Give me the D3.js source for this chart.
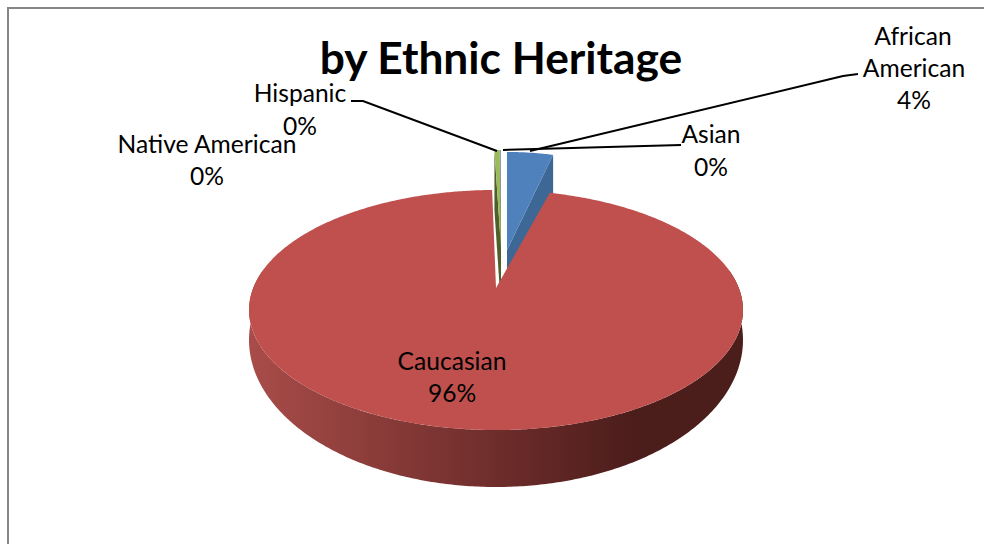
<!DOCTYPE html>
<html>
<head>
<meta charset="utf-8">
<script src="https://cdn.jsdelivr.net/npm/d3@7"></script>
<style>
  html, body { margin: 0; padding: 0; background: #fff; }
  text { font-family: Lato, "Open Sans", sans-serif; fill: #000; }
</style>
</head>
<body>
<div id="chart"></div>
<script>
const categories = ['African American', 'Caucasian', 'Hispanic', 'Native American', 'Asian']
const values = [4.2, 95.5, 0.24, 0.03, 0.03]
const colors = ['#4f81bd', '#c0504d', '#9bbb59', '#8064a2', '#4bacc6']
const wallColors = ['#3d6794', '#000', '#4f5f2c', '#4f5f2c', '#4f5f2c']

const width = 984
const height = 544

// pie is drawn as a tilted disc with some perspective
const center = { x: 496, y: 288 }
const persp = 0.1833
const radiusX = 242.8
const radiusY = 116
const depth = 60
// lower rim sits closer at the sides than at the front
const lowerOffset = 25
const lowerStretch = 1.225

// how far the small slices are pulled out, in screen px
const pulled = {
  'African American': { dx: 11, dy: -38, sx: 0.857 },
  Hispanic: { dx: 5, dy: -40, sx: 1.7 },
  'Native American': { dx: 5, dy: -40, sx: 1.7 },
  Asian: { dx: 5, dy: -40, sx: 1.7 }
}

// label lines: text, x, baseline y
const labels = [
  { name: 'African American', lines: [['African', 913, 45], ['American', 914, 77], ['%', 914, 109]] },
  { name: 'Asian', lines: [['Asian', 711, 143], ['%', 711, 176]] },
  { name: 'Hispanic', lines: [['Hispanic', 300, 102], ['%', 300, 135]] },
  { name: 'Native American', lines: [['Native American', 207, 153], ['%', 207, 185]] },
  { name: 'Caucasian', lines: [['Caucasian', 452, 370], ['%', 452, 402]] }
]

const leaders = [
  [[351, 101], [363, 101], [497, 151]],
  [[681, 145], [503, 150]],
  [[858, 74], [843, 76], [530, 151]]
]

const svg = d3
  .select('#chart')
  .append('svg')
  .attr('width', width)
  .attr('height', height)
  .style('display', 'block')

const defs = svg.append('defs')
const wallGrad = defs
  .append('linearGradient')
  .attr('id', 'wall')
  .attr('gradientUnits', 'userSpaceOnUse')
  .attr('x1', 250)
  .attr('x2', 742)
  .attr('y1', 0)
  .attr('y2', 0)
wallGrad.append('stop').attr('offset', '0%').attr('stop-color', '#a84c49')
wallGrad.append('stop').attr('offset', '50%').attr('stop-color', '#6e2d2b')
wallGrad.append('stop').attr('offset', '78%').attr('stop-color', '#4b1d1b')
wallGrad.append('stop').attr('offset', '100%').attr('stop-color', '#4b1d1b')

// frame, only top and left show in the window
svg
  .append('path')
  .attr('d', `M8,${height} V8 H${width}`)
  .attr('fill', 'none')
  .attr('stroke', '#868686')
  .attr('stroke-width', 2)

const pie = d3.pie().sort(null).startAngle(0).endAngle(2 * Math.PI)
const arcs = pie(values)
const total = d3.sum(values)

function project(angle, r, off) {
  const u = r * Math.sin(angle)
  const v = -r * Math.cos(angle)
  const w = 1 - persp * v
  const o = off || { dx: 0, dy: 0, sx: 1 }
  return [
    center.x + o.dx + (o.sx * radiusX * u) / w,
    center.y + o.dy + (radiusY * v) / w
  ]
}

function lower(p) {
  return [p[0], center.y + lowerOffset + (p[1] - center.y) * lowerStretch]
}

function rim(a0, a1) {
  const n = Math.max(2, Math.ceil(Math.abs(a1 - a0) / 0.01))
  return d3.range(n + 1).map(i => a0 + ((a1 - a0) * i) / n)
}

const line = d3.line()
const closed = pts => line(pts) + 'Z'

// pulled slices first, red covers them
const order = [4, 3, 2, 0]
order.forEach(i => {
  const a = arcs[i]
  const off = pulled[categories[i]]
  const apex = project(0, 0, off)
  const cut = i === 0 ? a.endAngle : a.startAngle
  const corner = project(cut, 1, off)
  svg
    .append('path')
    .attr('class', 'wall')
    .attr('d', closed([corner, apex, [apex[0], apex[1] + depth], [corner[0], corner[1] + depth]]))
    .attr('fill', wallColors[i])
  svg
    .append('path')
    .attr('class', 'slice')
    .attr('d', closed([apex].concat(rim(a.startAngle, a.endAngle).map(t => project(t, 1, off)))))
    .attr('fill', colors[i])
})

// red slice, side wall then top
const red = arcs[1]
const front = rim(Math.PI * 0.45, Math.PI * 1.55)
svg
  .append('path')
  .attr('d', closed(front.map(t => project(t, 1)).concat(front.slice().reverse().map(t => lower(project(t, 1))))))
  .attr('fill', 'url(#wall)')
svg
  .append('path')
  .attr('class', 'slice')
  .attr('d', closed([project(0, 0)].concat(rim(red.startAngle, red.endAngle).map(t => project(t, 1)))))
  .attr('fill', colors[1])

svg
  .selectAll('.leader')
  .data(leaders)
  .enter()
  .append('path')
  .attr('class', 'leader')
  .attr('d', d => line(d))
  .attr('fill', 'none')
  .attr('stroke', '#000')
  .attr('stroke-width', 2)

svg
  .append('text')
  .text('by Ethnic Heritage')
  .attr('x', 501)
  .attr('y', 74)
  .attr('text-anchor', 'middle')
  .style('font-size', '44.3px')
  .style('font-weight', 700)

labels.forEach(l => {
  const i = categories.indexOf(l.name)
  const pct = Math.round((values[i] / total) * 100) + '%'
  l.lines.forEach(t => {
    svg
      .append('text')
      .text(t[0] === '%' ? pct : t[0])
      .attr('x', t[1])
      .attr('y', t[2])
      .attr('text-anchor', 'middle')
      .style('font-size', '24.6px')
  })
})
</script>
</body>
</html>
